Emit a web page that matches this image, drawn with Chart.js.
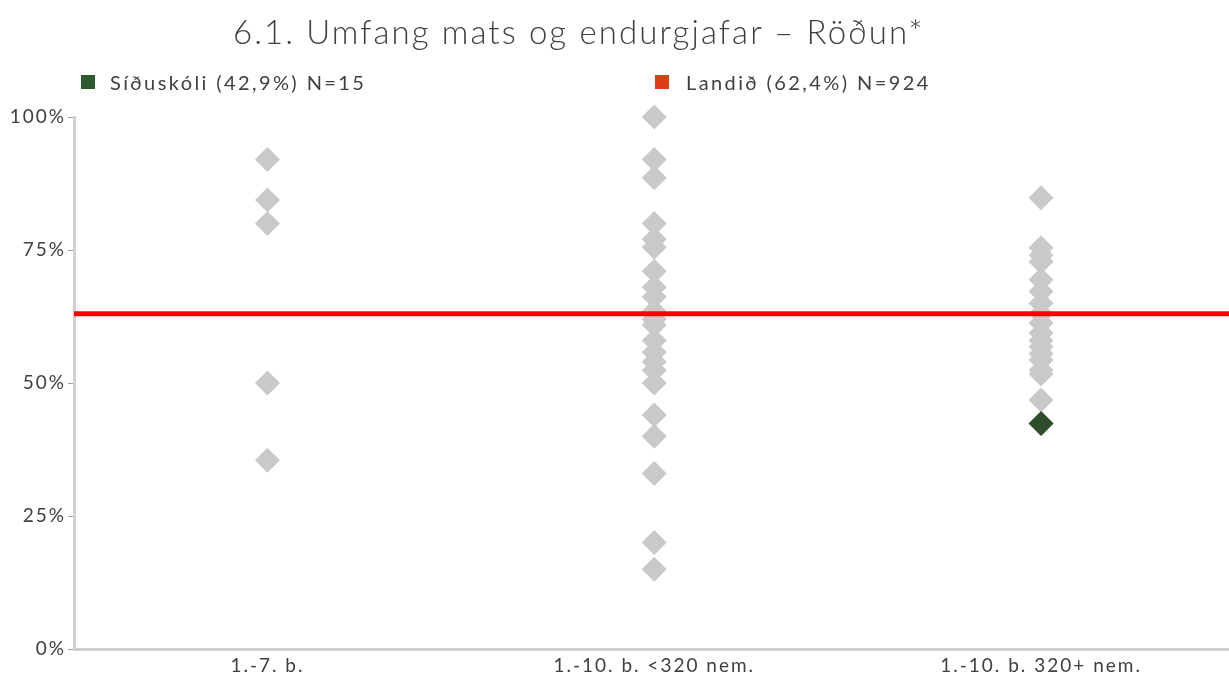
<!DOCTYPE html>
<html>
<head>
<meta charset="utf-8">
<script src="https://cdn.jsdelivr.net/npm/chart.js@4"></script>
<style>
  html, body { margin:0; padding:0; width:1229px; height:675px; overflow:hidden; background:#fff; }
  #wrap { position:absolute; left:0; top:0; width:1247px; height:675px; }
  .txt { position:absolute; font-family: Lato, "Open Sans", sans-serif; color:#404040; white-space:nowrap; }
  #title { left:233px; top:11px; font-size:33px; letter-spacing:2.1px; font-weight:300; }
  .leg { font-size:20px; letter-spacing:2.4px; top:70px; }
  .sq { position:absolute; width:14px; height:14px; }
</style>
</head>
<body>
<div id="wrap"><canvas id="c" width="1247" height="675"></canvas></div>
<div id="title" class="txt">6.1. Umfang mats og endurgjafar – Röðun*</div>
<div class="sq" style="left:81px;top:75px;background:#2d5a2e"></div>
<div class="txt leg" style="left:110px;">Síðuskóli (42,9%) N=15</div>
<div class="sq" style="left:655px;top:75px;background:#e03c14"></div>
<div class="txt leg" style="left:686px;">Landið (62,4%) N=924</div>
<script>
const categories = ['1.-7. b.', '1.-10. b. <320 nem.', '1.-10. b. 320+ nem.'];
const group1Values = [92, 84.4, 80, 50, 35.5];
const group2Values = [100, 92, 88.6, 80, 77, 75.5, 71, 68, 66.2, 63.5, 62, 60.9, 58, 55.8, 54, 52.4, 50, 44, 40, 33, 20, 15];
const group3Values = [84.8, 75.4, 74, 72.8, 69.4, 67.2, 65, 63, 61.3, 59.4, 58, 56.8, 55.5, 54.3, 52.4, 51.7, 46.8, 42.4];
const schoolCategory = '1.-10. b. 320+ nem.';
const schoolValue = 42.4;
const nationalValue = 63;
const yTickValues = [0, 25, 50, 75, 100];

const grayPoints = [];
[group1Values, group2Values, group3Values].forEach((arr, i) => {
  arr.forEach(v => grayPoints.push({x: categories[i], y: v}));
});

const textSpacing = {
  id: 'textSpacing',
  beforeDraw(chart) { chart.ctx.letterSpacing = '2px'; }
};

const nationalLine = {
  id: 'nationalLine',
  afterDatasetsDraw(chart) {
    const {ctx, chartArea, scales} = chart;
    const y = scales.y.getPixelForValue(nationalValue);
    ctx.save();
    ctx.strokeStyle = '#ff0000';
    ctx.lineWidth = 5;
    ctx.beginPath();
    ctx.moveTo(chartArea.left, y);
    ctx.lineTo(chartArea.right + 10, y);
    ctx.stroke();
    ctx.restore();
  }
};

new Chart(document.getElementById('c'), {
  type: 'scatter',
  data: {
    labels: categories,
    datasets: [
      { label: 'Síðuskóli', data: [{x: schoolCategory, y: schoolValue}], pointStyle: 'rectRot', pointRadius: 12.5,
        backgroundColor: '#2e4d2b', borderColor: '#2e4d2b', borderWidth: 0, order: 0, clip: false },
      { label: 'Skólar', data: grayPoints, pointStyle: 'rectRot', pointRadius: 12.5,
        backgroundColor: '#c9c9c9', borderColor: '#c9c9c9', borderWidth: 0, order: 1, clip: false }
    ]
  },
  options: {
    responsive: false,
    animation: false,
    events: [],
    layout: { padding: { left: 0, right: 6, top: 117, bottom: 0 } },
    plugins: { legend: { display: false }, tooltip: { enabled: false } },
    scales: {
      x: {
        type: 'category',
        labels: categories,
        offset: true,
        afterFit: s => { s.height = 26; },
        grid: { display: true, drawOnChartArea: false, drawTicks: false },
        border: { display: true, color: '#d0d0d0', width: 3 },
        ticks: { color: '#404040', font: { family: 'Lato', size: 19 }, padding: 5 }
      },
      y: {
        min: 0, max: 100,
        afterBuildTicks: s => { s.ticks = yTickValues.map(v => ({value: v})); },
        afterFit: s => { s.width = 74; },
        grid: { display: true, drawOnChartArea: false, drawTicks: true, tickLength: 6, color: '#a0a0a0' },
        border: { display: true, color: '#d0d0d0', width: 3 },
        ticks: { color: '#404040', font: { family: 'Lato', size: 19 }, padding: 2,
                 callback: v => v + '%' }
      }
    }
  },
  plugins: [textSpacing, nationalLine]
});
</script>
</body>
</html>
